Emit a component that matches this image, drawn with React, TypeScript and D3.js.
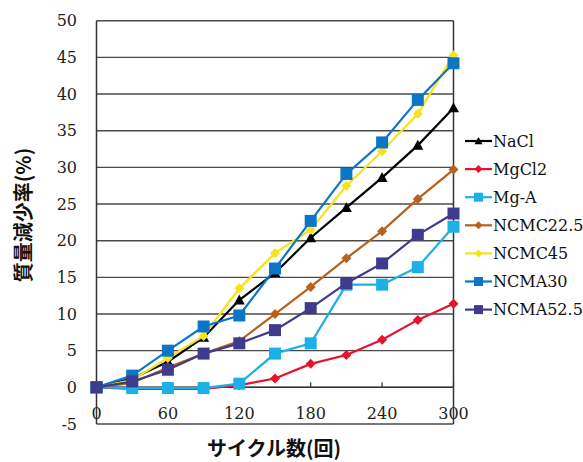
import React from "react";
import * as d3 from "d3";

// Cycle counts (x) and mass-loss percentages (y) for each specimen series
const cycles = [0, 30, 60, 90, 120, 150, 180, 210, 240, 270, 300];
const naclValues = [0, 1.2, 3.5, 6.8, 11.9, 15.6, 20.4, 24.5, 28.6, 33.0, 38.1];
const mgcl2Values = [0, -0.2, -0.2, -0.2, 0.3, 1.2, 3.2, 4.4, 6.5, 9.2, 11.4];
const mgaValues = [0, -0.1, -0.1, -0.1, 0.5, 4.6, 6.0, 14.0, 14.0, 16.4, 21.9];
const ncmc225Values = [0, 0.6, 2.7, 4.6, 6.3, 10.0, 13.7, 17.6, 21.3, 25.7, 29.7];
const ncmc45Values = [0, 1.0, 4.0, 7.0, 13.5, 18.3, 21.5, 27.5, 32.2, 37.3, 45.3];
const ncma30Values = [0, 1.6, 5.0, 8.3, 9.8, 16.2, 22.7, 29.1, 33.4, 39.2, 44.2];
const ncma525Values = [0, 0.8, 2.4, 4.6, 6.0, 7.8, 10.8, 14.2, 16.9, 20.8, 23.7];

const seriesNames = ["NaCl", "MgCl2", "Mg-A", "NCMC22.5", "NCMC45", "NCMA30", "NCMA52.5"];
const seriesValues = [naclValues, mgcl2Values, mgaValues, ncmc225Values, ncmc45Values, ncma30Values, ncma525Values];
const seriesColors = ["#000000", "#e8112d", "#1db0e6", "#b8601f", "#f5e31c", "#0b75c6", "#3f3a8c"];
const seriesMarkers = ["triangle", "diamond", "square", "diamond", "diamond", "square", "square"];

const yTicks = d3.range(-5, 51, 5);
const xTicks = [0, 60, 120, 180, 240, 300];

const W = 583;
const H = 462;
const serif = "'DejaVu Serif', 'Liberation Serif', serif";
const cjk = "'Noto Sans CJK JP', 'Noto Sans', sans-serif";

function markerPath(kind: string, cx: number, cy: number, s: number): string {
  const h = s / 2;
  if (kind === "square") {
    return `M${cx - h},${cy - h}H${cx + h}V${cy + h}H${cx - h}Z`;
  }
  if (kind === "diamond") {
    return `M${cx},${cy - h}L${cx + h},${cy}L${cx},${cy + h}L${cx - h},${cy}Z`;
  }
  // triangle pointing up
  return `M${cx},${cy - h}L${cx + h},${cy + h * 0.8}L${cx - h},${cy + h * 0.8}Z`;
}

const markerSize: Record<string, number> = { square: 12, diamond: 10, triangle: 11 };

export default function App() {
  const x = d3.scaleLinear().domain([0, 300]).range([96.5, 453.5]);
  const y = d3.scaleLinear().domain([-5, 50]).range([424, 20.7]);

  const line = d3
    .line<number>()
    .x((_, i) => x(cycles[i]))
    .y((v) => y(v));

  const legendX0 = 465;
  const legendX1 = 492;
  const legendY0 = 141;
  const legendStep = 28.1;

  return (
    <svg
      width={W}
      height={H}
      style={{ position: "absolute", left: 0, top: 0, display: "block", background: "#fff" }}
    >
      {/* horizontal gridlines */}
      {yTicks.map((t) => (
        <line key={`g${t}`} x1={x(0)} x2={x(300)} y1={y(t)} y2={y(t)} stroke="#4a4a4a" strokeWidth={1.4} />
      ))}
      {/* frame */}
      <line x1={x(0)} x2={x(0)} y1={y(50)} y2={y(-5)} stroke="#333" strokeWidth={1.5} />
      <line x1={x(300)} x2={x(300)} y1={y(50)} y2={y(-5)} stroke="#333" strokeWidth={1.5} />
      {/* x axis at zero with inner tick marks */}
      <line x1={x(0)} x2={x(300)} y1={y(0)} y2={y(0)} stroke="#333" strokeWidth={1.5} />
      {xTicks.map((t) => (
        <line key={`t${t}`} x1={x(t)} x2={x(t)} y1={y(0)} y2={y(0) - 5} stroke="#333" strokeWidth={1.2} />
      ))}

      {/* y tick labels */}
      {yTicks.map((t) => (
        <text
          key={`yl${t}`}
          x={77}
          y={y(t)}
          dy="0.36em"
          textAnchor="end"
          fontFamily={serif}
          fontSize={16}
          fill="#222"
        >
          {t}
        </text>
      ))}
      {/* x tick labels */}
      {xTicks.map((t) => (
        <text
          key={`xl${t}`}
          x={x(t)}
          y={413}
          dy="0.36em"
          textAnchor="middle"
          fontFamily={serif}
          fontSize={16}
          fill="#222"
        >
          {t}
        </text>
      ))}

      {/* series */}
      {seriesValues.map((vals, si) => (
        <g key={seriesNames[si]}>
          <path d={line(vals) || ""} fill="none" stroke={seriesColors[si]} strokeWidth={2.2} />
          {vals.map((v, i) => (
            <path
              key={i}
              d={markerPath(seriesMarkers[si], x(cycles[i]), y(v), markerSize[seriesMarkers[si]])}
              fill={seriesColors[si]}
            />
          ))}
        </g>
      ))}

      {/* legend */}
      {seriesNames.map((name, si) => {
        const ly = legendY0 + si * legendStep;
        const mk = seriesMarkers[si];
        return (
          <g key={`lg${name}`}>
            <line x1={legendX0} x2={legendX1} y1={ly} y2={ly} stroke={seriesColors[si]} strokeWidth={2.2} />
            <path
              d={markerPath(mk, (legendX0 + legendX1) / 2, ly, mk === "square" ? 9 : 8)}
              fill={seriesColors[si]}
            />
            <text x={493} y={ly} dy="0.36em" fontFamily={serif} fontSize={16} fill="#111">
              {name}
            </text>
          </g>
        );
      })}

      {/* axis titles */}
      <text
        transform={`translate(24,${215}) rotate(-90)`}
        textAnchor="middle"
        dy="0.36em"
        fontFamily={cjk}
        fontWeight="bold"
        fontSize={20}
        fill="#111"
      >
        質量減少率(%)
      </text>
      <text
        x={274}
        y={449}
        dy="0.36em"
        textAnchor="middle"
        fontFamily={cjk}
        fontWeight="bold"
        fontSize={20}
        fill="#111"
      >
        サイクル数(回)
      </text>
    </svg>
  );
}
